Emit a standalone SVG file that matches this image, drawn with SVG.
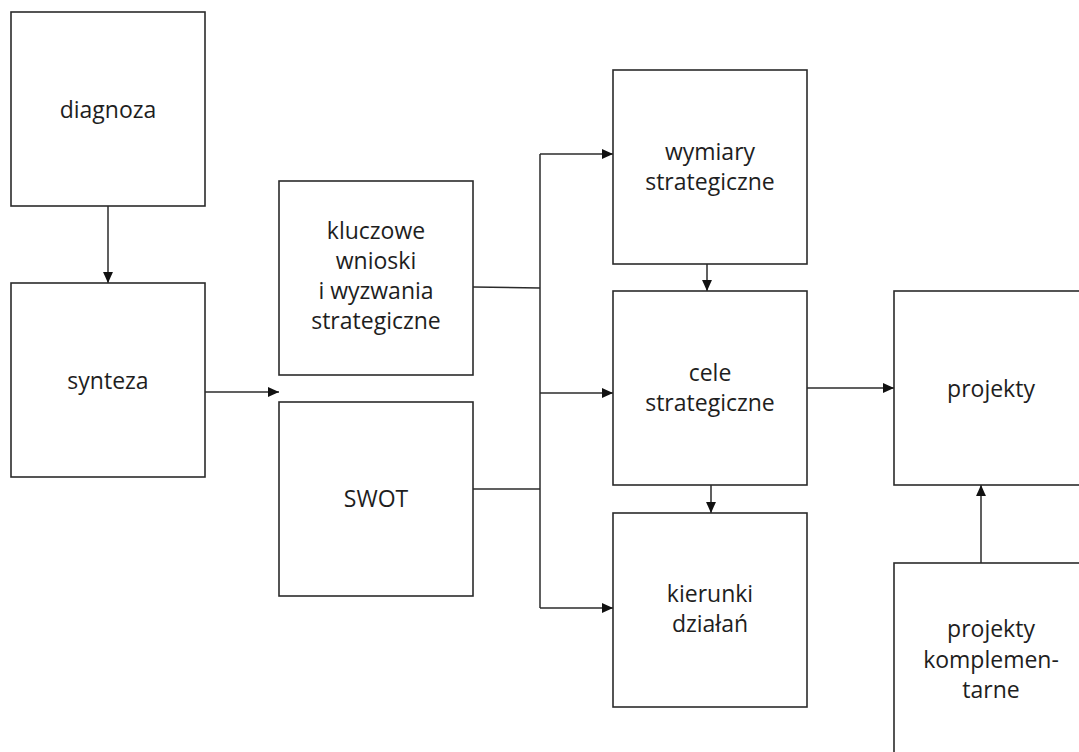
<svg xmlns="http://www.w3.org/2000/svg" width="1079" height="752" viewBox="0 0 1079 752">
<defs>
<style>
.box{fill:#ffffff;stroke:#2b2b2b;stroke-width:1.6}
.lbl{font-family:"Open Sans","Liberation Sans",sans-serif;font-size:23px;fill:#1e1e1e;text-anchor:middle}
.con{fill:none;stroke:#2b2b2b;stroke-width:1.5}
</style>
<marker id="ah" viewBox="0 0 10 10" refX="10" refY="5" markerWidth="11" markerHeight="11" markerUnits="userSpaceOnUse" orient="auto">
<path d="M0,0.5 L10,5 L0,9.5 Z" fill="#111"/>
</marker>
</defs>
<rect width="1079" height="752" fill="#ffffff"/>
<g id="connectors">
<path class="con" d="M108,206 V283" marker-end="url(#ah)"/>
<path class="con" d="M205,392 H279" marker-end="url(#ah)"/>
<path class="con" d="M473,287 L540,288"/>
<path class="con" d="M473,489 H540"/>
<path class="con" d="M540,154 V608"/>
<path class="con" d="M540,154 H613" marker-end="url(#ah)"/>
<path class="con" d="M540,393 H613" marker-end="url(#ah)"/>
<path class="con" d="M540,608 H613" marker-end="url(#ah)"/>
<path class="con" d="M707,264 V291" marker-end="url(#ah)"/>
<path class="con" d="M711,485 V513" marker-end="url(#ah)"/>
<path class="con" d="M807,388 H894" marker-end="url(#ah)"/>
<path class="con" d="M981,563 V485" marker-end="url(#ah)"/>
</g>
<g id="diagnoza"><rect class="box" x="11" y="12" width="194" height="194"/><text class="lbl" x="108" y="118">diagnoza</text></g>
<g id="synteza"><rect class="box" x="11" y="283" width="194" height="194"/><text class="lbl" x="108" y="389">synteza</text></g>
<g id="kluczowe"><rect class="box" x="279" y="181" width="194" height="194"/><text class="lbl" x="376" y="239">kluczowe</text><text class="lbl" x="376" y="269">wnioski</text><text class="lbl" x="376" y="299">i wyzwania</text><text class="lbl" x="376" y="329">strategiczne</text></g>
<g id="swot"><rect class="box" x="279" y="402" width="194" height="194"/><text class="lbl" x="376" y="507">SWOT</text></g>
<g id="wymiary"><rect class="box" x="613" y="70" width="194" height="194"/><text class="lbl" x="710" y="160">wymiary</text><text class="lbl" x="710" y="190">strategiczne</text></g>
<g id="cele"><rect class="box" x="613" y="291" width="194" height="194"/><text class="lbl" x="710" y="381">cele</text><text class="lbl" x="710" y="411">strategiczne</text></g>
<g id="kierunki"><rect class="box" x="613" y="513" width="194" height="194"/><text class="lbl" x="710" y="602">kierunki</text><text class="lbl" x="710" y="632">działań</text></g>
<g id="projekty"><rect class="box" x="894" y="291" width="194" height="194"/><text class="lbl" x="991" y="397">projekty</text></g>
<g id="projekty-komplementarne"><rect class="box" x="894" y="563" width="194" height="194"/><text class="lbl" x="991" y="637">projekty</text><text class="lbl" x="991" y="668">komplemen-</text><text class="lbl" x="991" y="698">tarne</text></g>
</svg>
